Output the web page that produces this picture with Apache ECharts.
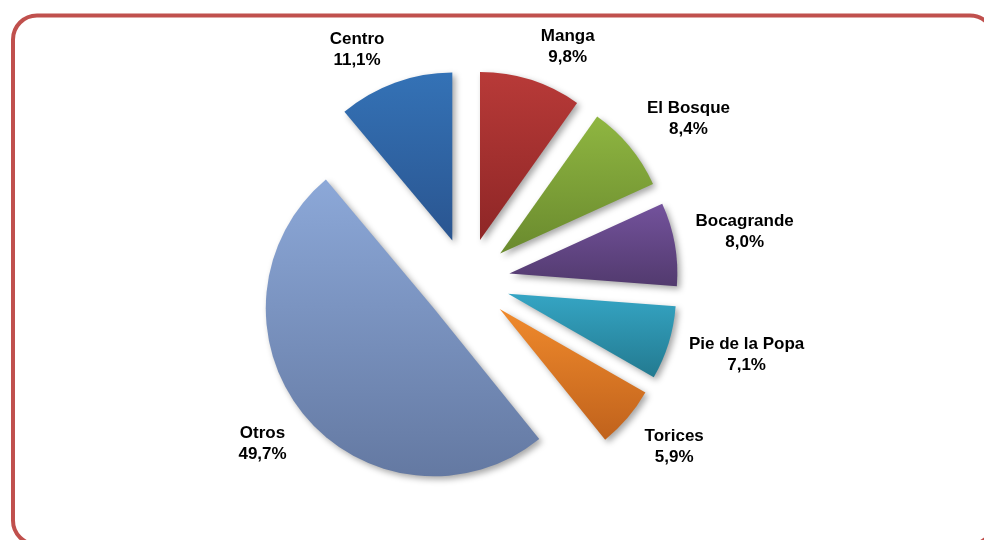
<!DOCTYPE html>
<html lang="es">

<head>
    <meta charset="UTF-8">
    <title>Participación por barrio</title>
    <script type="text/javascript" src="https://cdn.jsdelivr.net/npm/echarts@6/dist/echarts.min.js"></script>
    <style>
        html, body { margin: 0; padding: 0; background: #fff; }
    </style>
</head>

<body>
    <div id="main" style="width: 984px;height:540px;"></div>
    <script>
        // datos (orden horario desde las 12)
        var barrios = ['Manga', 'El Bosque', 'Bocagrande', 'Pie de la Popa', 'Torices', 'Otros', 'Centro'];
        var porcentajes = [9.8, 8.4, 8.0, 7.1, 5.9, 49.7, 11.1];

        // colores del degradado (arriba / abajo)
        var colorArriba = ['#b83a38', '#8fb641', '#73529c', '#35a5c4', '#f08a2c', '#8ca8d8', '#3472b6'];
        var colorAbajo = ['#8e2626', '#6a8a2e', '#523a6e', '#237a90', '#c0621c', '#6479a2', '#2a5590'];

        // geometría del pastel
        var CX = 467, CY = 281, R = 168, DESPLAZA = 43, HUECO = 16;
        var TAM = 17, ALTO_LINEA = 21;

        var total = porcentajes.reduce(function (a, b) { return a + b; }, 0);

        function clamp(v, lo, hi) { return Math.max(lo, Math.min(hi, v)); }

        function textoEtiqueta(nombre, valor) {
            return nombre + '\n' + valor.toFixed(1).replace('.', ',') + '%';
        }

        // medir el bloque de texto
        var ctx = document.createElement('canvas').getContext('2d');
        ctx.font = 'bold ' + TAM + 'px "Liberation Sans"';
        function anchoTexto(t) {
            return Math.max.apply(null, t.split('\n').map(function (l) { return ctx.measureText(l).width; }));
        }

        // etiquetas fuera de cada porción, colocadas según su ángulo medio
        // (labelLayout no mueve las etiquetas del pie en v6, así que van como texto aparte)
        var etiquetas = barrios.map(function (b, i) {
            var antes = 0;
            for (var k = 0; k < i; k++) antes += porcentajes[k];
            var medio = (antes + porcentajes[i] / 2) / total * Math.PI * 2;
            var dx = Math.sin(medio), dy = -Math.cos(medio);
            var d = DESPLAZA + R + HUECO;
            var texto = textoEtiqueta(b, porcentajes[i]);
            var w = anchoTexto(texto), h = ALTO_LINEA * 2;
            return {
                type: 'text',
                x: CX + dx * d + clamp(dx * 4, -1, 1) * (w / 2 + 5),
                y: CY + dy * d + clamp(1.6 * dy - 0.15, -0.85, 1) * h / 2,
                style: {
                    text: texto,
                    fontFamily: 'Liberation Sans',
                    fontWeight: 'bold',
                    fontSize: TAM,
                    lineHeight: ALTO_LINEA,
                    fill: '#000',
                    align: 'center',
                    verticalAlign: 'middle'
                }
            };
        });

        var datos = barrios.map(function (b, i) {
            return {
                name: b,
                value: porcentajes[i],
                selected: true,
                itemStyle: {
                    color: {
                        type: 'linear', x: 0, y: 0, x2: 0, y2: 1,
                        colorStops: [
                            { offset: 0, color: colorArriba[i] },
                            { offset: 1, color: colorAbajo[i] }
                        ]
                    }
                }
            };
        });

        var myChart = echarts.init(document.getElementById('main'));
        myChart.setOption({
            animation: false,
            graphic: [{
                type: 'rect',
                shape: { x: 13, y: 15.5, width: 981, height: 529, r: 24 },
                style: { fill: 'none', stroke: '#c0504d', lineWidth: 4 },
                z: -1
            }].concat(etiquetas),
            series: [{
                type: 'pie',
                center: [CX, CY],
                radius: [0, R],
                startAngle: 90,
                clockwise: true,
                selectedMode: 'multiple',
                selectedOffset: DESPLAZA,
                itemStyle: {
                    shadowBlur: 6,
                    shadowColor: 'rgba(0,0,0,0.35)',
                    shadowOffsetX: 3,
                    shadowOffsetY: 3
                },
                select: { itemStyle: { borderWidth: 0 } },
                emphasis: { disabled: true },
                label: { show: false },
                labelLine: { show: false },
                data: datos
            }]
        });
    </script>
</body>

</html>
